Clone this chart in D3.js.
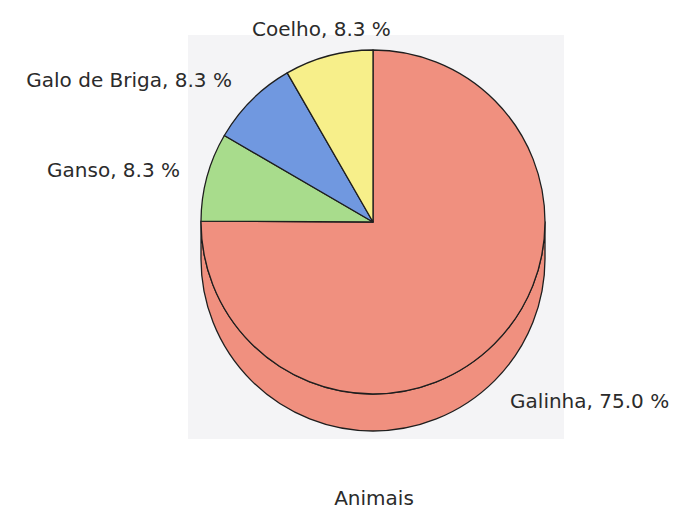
<!DOCTYPE html>
<html>
<head>
<meta charset="utf-8">
<script src="https://cdn.jsdelivr.net/npm/d3@7"></script>
<style>
  html, body { margin: 0; padding: 0; background: #ffffff; }
  svg { display: block; }
  text { font-family: "DejaVu Sans", sans-serif; fill: #2b2b2b; }
</style>
</head>
<body>
<svg id="chart" width="681" height="513"></svg>
<script>
// Share of animals (percent)
const categories = ["Galinha", "Ganso", "Galo de Briga", "Coelho"];
const values = [75.0, 8.3, 8.3, 8.3];
const colors = ["#f0907f", "#a8dc8c", "#7098e0", "#f7ef8a"];
const title = "Animais";

const cx = 373, cy = 222, r = 172, depth = 37;
const fontSize = 20;

const svg = d3.select("#chart");

// plot area backdrop
svg.append("rect")
  .attr("x", 188).attr("y", 35)
  .attr("width", 376).attr("height", 404)
  .attr("fill", "#f4f4f6");

const data = categories.map((c, i) => ({ name: c, value: values[i], color: colors[i] }));

const pie = d3.pie().sort(null).value(d => d.value).startAngle(0).endAngle(2 * Math.PI);
const arcs = pie(data);
const arc = d3.arc().innerRadius(0).outerRadius(r);

const g = svg.append("g").attr("transform", `translate(${cx},${cy})`);

// side wall of the disc: lower half of the rim, extruded downward
const rimSlice = arcs.find(a => a.startAngle <= Math.PI / 2 && a.endAngle >= 3 * Math.PI / 2) || arcs[0];
const side = d3.path();
side.moveTo(-r, 0);
side.lineTo(-r, depth);
side.arc(0, depth, r, Math.PI, 0, true);
side.lineTo(r, 0);
side.arc(0, 0, r, 0, Math.PI, false);
side.closePath();
g.append("path")
  .attr("d", side.toString())
  .attr("fill", rimSlice.data.color)
  .attr("stroke", "#1e1e1e")
  .attr("stroke-width", 1.3)
  .attr("stroke-linejoin", "round");

// top face slices
g.selectAll("path.slice")
  .data(arcs)
  .join("path")
  .attr("class", "slice")
  .attr("d", arc)
  .attr("fill", d => d.data.color)
  .attr("stroke", "#1e1e1e")
  .attr("stroke-width", 1.3)
  .attr("stroke-linejoin", "round");

// slice labels
const labelR = 200;
g.selectAll("text.lbl")
  .data(arcs)
  .join("text")
  .attr("class", "lbl")
  .each(function (d) {
    const a = (d.startAngle + d.endAngle) / 2;
    const sx = Math.sin(a), cyv = -Math.cos(a);
    const x = labelR * sx;
    let y = labelR * cyv;
    if (cyv > 0) y += depth;
    const anchor = sx < -0.3 ? "end" : (sx > 0.3 ? "start" : "middle");
    d3.select(this)
      .attr("x", x + (anchor === "start" ? -4 : 0)).attr("y", y)
      .attr("dy", "0.36em")
      .attr("text-anchor", anchor)
      .attr("font-size", fontSize)
      .text(`${d.data.name}, ${d3.format(".1f")(d.data.value)} %`);
  });

svg.append("text")
  .attr("x", 374).attr("y", 505)
  .attr("text-anchor", "middle")
  .attr("font-size", fontSize)
  .text(title);
</script>
</body>
</html>
